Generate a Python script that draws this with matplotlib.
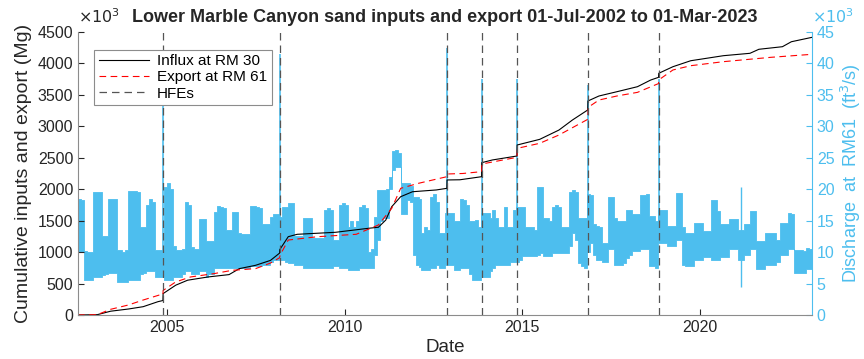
import matplotlib
matplotlib.use('Agg')
import matplotlib.pyplot as plt
import matplotlib.dates as mdates
import numpy as np
import pandas as pd

plt.rcParams['font.family'] = ['Liberation Sans', 'DejaVu Sans']

# cumulative sand (x10^3 Mg)
influx_dates = ['2002-07-01', '2003-01-15', '2003-06-01', '2003-12-01', '2004-05-01', '2004-10-01',
                '2004-11-20', '2004-11-22', '2005-04-01', '2005-08-01', '2006-03-01', '2006-10-01',
                '2007-01-15', '2007-07-01', '2007-12-01', '2008-03-04', '2008-03-06', '2008-06-01',
                '2008-09-01', '2009-10-01', '2010-09-01', '2010-12-15', '2011-03-01', '2011-05-01',
                '2011-08-01', '2011-12-01', '2012-08-01', '2012-11-18', '2012-11-20', '2013-04-01',
                '2013-11-10', '2013-11-12', '2014-03-01', '2014-11-09', '2014-11-11', '2015-07-01',
                '2016-01-15', '2016-06-01', '2016-11-06', '2016-11-08', '2017-03-01', '2017-09-01',
                '2018-04-01', '2018-08-15', '2018-11-04', '2018-11-06', '2019-04-01', '2019-10-01',
                '2020-09-01', '2021-06-01', '2021-09-01', '2022-05-01', '2022-08-01', '2023-03-01']
influx = [0, 5, 60, 95, 132, 212,
          230, 340, 474, 553, 605, 642,
          737, 790, 868, 984, 1040, 1245,
          1283, 1315, 1378, 1395, 1510, 1722,
          1881, 1960, 1988, 2014, 2147, 2150,
          2199, 2422, 2465, 2528, 2703, 2793,
          2941, 3100, 3260, 3403, 3482, 3550,
          3630, 3736, 3779, 3843, 3948, 4043,
          4123, 4161, 4225, 4266, 4345, 4415]

export_dates = ['2002-07-01', '2003-01-15', '2003-06-01', '2003-12-01', '2004-05-01', '2004-10-15',
                '2004-11-20', '2004-11-22', '2005-04-01', '2005-09-01', '2006-05-01', '2006-11-01',
                '2007-07-01', '2007-12-01', '2008-03-04', '2008-03-10', '2008-06-01', '2009-04-01',
                '2010-05-01', '2010-12-15', '2011-05-01', '2011-08-01', '2012-02-01', '2012-11-18',
                '2012-11-22', '2013-05-01', '2013-11-10', '2013-11-14', '2014-11-09', '2014-11-13',
                '2015-07-01', '2016-01-15', '2016-11-06', '2016-11-10', '2017-03-01', '2017-09-01',
                '2018-04-01', '2018-11-04', '2018-11-08', '2019-04-01', '2019-10-01', '2020-09-01',
                '2022-01-01', '2023-03-01']
export = [0, 5, 90, 159, 238, 318,
          320, 390, 526, 605, 658, 710,
          737, 826, 910, 954, 1192, 1245,
          1283, 1431, 1696, 2014, 2094, 2199,
          2242, 2250, 2279, 2401, 2507, 2650,
          2730, 2862, 3111, 3302, 3418, 3482,
          3540, 3680, 3740, 3896, 3964, 4028,
          4097, 4145]

hfe_dates = ['2004-11-21', '2008-03-05', '2012-11-19', '2013-11-11',
             '2014-11-10', '2016-11-07', '2018-11-05']
hfe_peak = [41.0, 41.5, 42.5, 37.5, 37.5, 36.5, 37.5]  # x10^3 ft3/s

# monthly discharge range at RM61 (x10^3 ft3/s), Jul-2002 .. Feb-2023
q_lo = [10, 10, 5.5, 5.5, 5.5, 6,
        6, 6.1, 6.3, 6.5, 6.6, 6.6, 6.6, 5.3, 5.3, 5.3, 5.3, 5.5,
        5.5, 5.5, 5.5, 6.5, 6.6, 7, 7, 7, 6, 6, 6, 5.5,
        5.5, 5.5, 6, 6, 6, 6.5, 7, 7, 6.5, 6.5, 6.5, 7,
        7, 6, 6.5, 6.5, 7.5, 7.5, 7.5, 7.5, 7.5, 7.5, 7.5, 7.5,
        7.5, 7.5, 7.5, 7.5, 7.8, 7.8, 7.8, 7.8, 8, 8, 8, 8.5,
        8.8, 8.8, 8.7, 8.7, 8.5, 8.2, 8.2, 8, 8, 8, 7.5, 7.5,
        7.5, 7.4, 7.4, 7.4, 7.4, 7.4, 7.4, 7.4, 7.8, 7.8, 7.4, 7.4,
        7.4, 7.2, 7.1, 7.1, 7.1, 7.4, 7.4, 7.4, 7.4, 7.4, 9.5, 12,
        15, 15.5, 15.5, 20, 23, 23.5, 23.5, 16, 16, 18.3, 18, 9.5,
        8, 7.7, 7.2, 7.2, 7.2, 7.5, 7.5, 8, 7.4, 7.4, 8, 8,
        8, 7.1, 7.1, 7.5, 7.5, 7.5, 6.5, 5.6, 5.6, 5.6, 6, 6.1,
        6.1, 7, 7.5, 8, 8, 8, 8, 8, 8.5, 8.5, 8.5, 8.8,
        9.3, 9.3, 9.3, 9.3, 9.3, 9.5, 9.8, 9.3, 9.3, 9.3, 9.8, 9.8,
        9.8, 9.8, 9.8, 9.8, 11, 13, 12, 8.3, 7.8, 7.5, 10, 11.5,
        9.5, 8.8, 8.8, 8.5, 8.5, 10.5, 10.5, 8, 8, 8, 8.2, 9,
        9.5, 10.2, 10.2, 10.2, 10.5, 10.5, 10.5, 7.8, 7.8, 7.5, 11.5, 11.5,
        11.5, 11, 11, 11, 12, 12, 8, 7.8, 7.8, 7.8, 8.8, 8.8,
        8.8, 9.2, 9.2, 9.2, 8.8, 8.8, 8.8, 9.2, 9.2, 9.2, 10.5, 10.5,
        10.5, 8.8, 8.8, 9.5, 9.5, 10.5, 10.5, 7.3, 7.3, 7.3, 8, 8,
        8, 8, 8.5, 9.5, 9.5, 9.5, 10.5, 10.5, 6.7, 6.7, 6.7, 6.7,
        7.3, 7.3]
q_hi = [18.5, 18.3, 10.2, 10, 10, 19.5,
        19.5, 19.5, 12.6, 12.6, 18.4, 18.4, 18.5, 10.3, 10.3, 10, 10.3, 19.7,
        19.7, 19.7, 19.5, 14, 14, 17.5, 18.4, 18, 10.3, 10.3, 10.3, 20.3,
        21, 20, 11, 10.3, 10.3, 10.5, 17.9, 17.5, 10.8, 10.5, 10.5, 15.3,
        15.3, 11.8, 11.8, 11.8, 16.4, 17.4, 17.1, 17, 13.5, 13.5, 16.3, 16.3,
        13, 12.9, 12.9, 12.9, 17.4, 17.4, 17.2, 17, 14.5, 14.5, 14.5, 15.6,
        16, 16, 15.6, 17.2, 17.2, 17.8, 17.8, 12.5, 12.5, 12.5, 15.4, 15.4,
        15.4, 12.2, 12.2, 12.2, 12.2, 16.7, 17, 16.7, 12, 12, 17.5, 17.8,
        17.5, 14, 15, 14, 15, 17.2, 17.5, 17, 10, 10.5, 15.6, 19.9,
        19.9, 19.9, 20, 22, 26, 26.2, 25.7, 21, 21, 21, 20.5, 18.8,
        18.8, 18.5, 13, 14, 13.5, 18.8, 19.3, 18, 13, 13, 16.2, 16.2,
        16.2, 15, 15, 18.5, 18.3, 17.5, 15, 15, 15.1, 14, 16.2, 16.2,
        16.2, 15.4, 16.7, 15.4, 14, 14, 17.2, 14, 14, 16.7, 17.2, 17.2,
        17.2, 14, 14, 14, 13.5, 20.3, 20.4, 15.5, 15.5, 15, 17.2, 17.5,
        17.2, 14, 14, 14, 19.6, 19.9, 19.5, 15.5, 15.5, 15.5, 19.3, 19.1,
        14.5, 14.1, 14, 11.5, 11.5, 18.8, 18.8, 15.5, 15, 15, 15, 16.7,
        16.7, 16, 16, 16, 19.1, 19.1, 19.3, 15.7, 15.7, 15, 16.7, 16.7,
        16.7, 14.1, 14.1, 14.1, 19.4, 19.4, 14, 13, 13, 13, 14.6, 14.6,
        14.6, 13.3, 13.3, 13.3, 18.3, 18.3, 16.5, 14.5, 14.5, 14.5, 15.2, 15.2,
        15.2, 13.5, 13.5, 14.5, 14.5, 16.5, 16.5, 11.7, 11.7, 11.7, 13, 13,
        13, 13, 12, 14.6, 14.6, 14.6, 16.2, 16, 10.4, 10.4, 10.4, 10.2,
        10.6, 10.5]

# single odd reading in early 2021
spike_date = '2021-03-01'
spike_lo, spike_hi = 4.4, 20.4

blue = '#4DBEEE'
axis_gray = '#262626'


def main():
    months = pd.date_range('2002-07-01', '2023-02-01', freq='MS')
    edges = list(months) + [pd.Timestamp('2023-03-01')]
    lo = list(q_lo) + [q_lo[-1]]
    hi = list(q_hi) + [q_hi[-1]]

    fig = plt.figure(figsize=(8.64, 3.59), dpi=100)
    ax1 = fig.add_axes([0.0903, 0.1226, 0.8495, 0.7883])
    ax2 = ax1.twinx()
    ax1.set_zorder(ax2.get_zorder() + 1)
    ax1.patch.set_visible(False)

    ## discharge on the right axis
    ax2.fill_between(edges, lo, hi, step='post', color=blue, linewidth=0.6, edgecolor=blue)
    hd = pd.to_datetime(hfe_dates)
    base = [q_lo[max(0, min(len(q_lo) - 1, (d.year - 2002) * 12 + d.month - 7))] for d in hd]
    ax2.vlines(hd, base, hfe_peak, color=blue, linewidth=1.2)
    ax2.vlines(pd.Timestamp(spike_date), spike_lo, spike_hi, color=blue, linewidth=1)
    ax2.set_ylim(0, 45)
    ax2.set_yticks(np.arange(0, 46, 5))
    ax2.set_ylabel('Discharge  at  RM61  (ft$^3$/s)', color=blue, fontsize=13, labelpad=3)
    ax2.tick_params(axis='y', colors=blue, direction='in', length=4, labelsize=11.5)
    for s in ['top', 'left', 'bottom']:
        ax2.spines[s].set_visible(False)
    ax2.spines['right'].set_color(blue)

    ## cumulative curves + HFEs on the left axis
    ax1.plot(pd.to_datetime(influx_dates), influx, color='black', linewidth=0.8,
             label='Influx at RM 30')
    ax1.plot(pd.to_datetime(export_dates), export, color='red', linewidth=0.8,
             linestyle=(0, (6, 4)), label='Export at RM 61')
    for i, d in enumerate(hd):
        ax1.axvline(d, color='#555555', linewidth=0.9, linestyle=(0, (6, 4)),
                    label='HFEs' if i == 0 else None)

    ax1.set_xlim(pd.Timestamp('2002-07-01'), pd.Timestamp('2023-03-01'))
    ax1.set_ylim(0, 4500)
    ax1.set_yticks(np.arange(0, 4501, 500))
    ax1.xaxis.set_major_locator(mdates.YearLocator(5))
    ax1.xaxis.set_major_formatter(mdates.DateFormatter('%Y'))
    ax1.tick_params(direction='in', length=4, labelsize=11.5, colors=axis_gray)
    for s in ['left', 'bottom']:
        ax1.spines[s].set_color('#8c8c8c')
    for s in ['top', 'right']:
        ax1.spines[s].set_visible(False)
    ax1.set_ylabel('Cumulative inputs and export (Mg)', fontsize=14, color=axis_gray,
                   labelpad=4)
    ax1.set_xlabel('Date', fontsize=13.5, color=axis_gray, labelpad=3)
    ax1.set_title('Lower Marble Canyon sand inputs and export 01-Jul-2002 to 01-Mar-2023',
                  fontsize=13, fontweight='bold', color=axis_gray, pad=7)
    ax1.text(0.0, 1.02, r'$\times10^3$', transform=ax1.transAxes, fontsize=11.5,
             color=axis_gray, ha='left', va='bottom')
    ax1.text(1.0, 1.02, r'$\times10^3$', transform=ax1.transAxes, fontsize=11.5,
             color=blue, ha='left', va='bottom')

    leg = ax1.legend(loc='upper left', bbox_to_anchor=(0.012, 0.965), fontsize=11,
                     handlelength=3.3, handletextpad=0.5, borderpad=0.3,
                     labelspacing=0.15, fancybox=False, framealpha=1)
    leg.get_frame().set_edgecolor('#8c8c8c')
    leg.get_frame().set_linewidth(0.8)

    fig.savefig('out.png', dpi=100)


if __name__ == "__main__":
    main()
